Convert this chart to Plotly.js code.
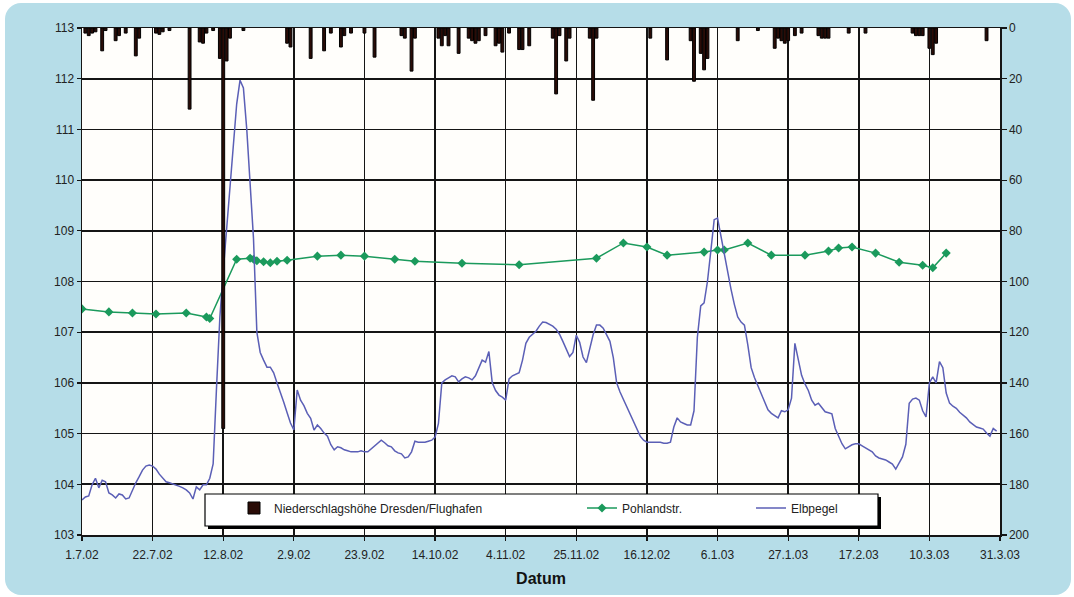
<!DOCTYPE html>
<html><head><meta charset="utf-8">
<script src="https://cdn.plot.ly/plotly-3.0.1.min.js"></script>
<style>
html,body{margin:0;padding:0;background:#ffffff;}
#bg{position:absolute;left:5px;top:3px;width:1066px;height:592px;background:#b6dde8;border-radius:16px;}
#chart{position:absolute;left:0;top:0;width:1074px;height:597px;}
</style></head><body>
<div id="bg"></div><div id="chart"></div>
<script>
// ---- tick labels ----
const tickDates = ['2002-07-01','2002-07-22','2002-08-12','2002-09-02','2002-09-23','2002-10-14','2002-11-04','2002-11-25','2002-12-16','2003-01-06','2003-01-27','2003-02-17','2003-03-10','2003-03-31'];
const tickLabels = ['1.7.02','22.7.02','12.8.02','2.9.02','23.9.02','14.10.02','4.11.02','25.11.02','16.12.02','6.1.03','27.1.03','17.2.03','10.3.03','31.3.03'];

// ---- Niederschlagshöhe Dresden/Flughafen (mm, right axis) ----
const rainDates = ['2002-07-02','2002-07-03','2002-07-04','2002-07-05','2002-07-07','2002-07-08','2002-07-11','2002-07-12','2002-07-14','2002-07-17','2002-07-18','2002-07-23','2002-07-24','2002-07-25','2002-07-27','2002-08-02','2002-08-05','2002-08-06','2002-08-07','2002-08-09','2002-08-11','2002-08-12','2002-08-13','2002-08-14','2002-08-18','2002-08-31','2002-09-01','2002-09-07','2002-09-11','2002-09-13','2002-09-16','2002-09-17','2002-09-19','2002-09-23','2002-09-26','2002-10-04','2002-10-05','2002-10-07','2002-10-08','2002-10-15','2002-10-16','2002-10-17','2002-10-18','2002-10-21','2002-10-24','2002-10-25','2002-10-26','2002-10-27','2002-10-29','2002-11-01','2002-11-02','2002-11-03','2002-11-05','2002-11-08','2002-11-09','2002-11-11','2002-11-18','2002-11-19','2002-11-20','2002-11-22','2002-11-23','2002-11-29','2002-11-30','2002-12-01','2002-12-17','2002-12-22','2002-12-29','2002-12-30','2003-01-01','2003-01-02','2003-01-03','2003-01-12','2003-01-18','2003-01-23','2003-01-24','2003-01-25','2003-01-26','2003-01-27','2003-01-29','2003-01-31','2003-02-05','2003-02-06','2003-02-07','2003-02-08','2003-02-14','2003-02-19','2003-03-05','2003-03-06','2003-03-07','2003-03-08','2003-03-10','2003-03-11','2003-03-12','2003-03-27'];
const rainMm = [2,3,2,1.5,9,1,5,3,2,11,4,2,2.5,1.5,1,32,5.5,6,2,1,12,158,13,4,1,6,7.5,12,9,2,7.5,3,2,2,11.5,3,4,17,4,4,7,3,7,10,4,5,6,5,3,7,6,9.5,2,8.5,8.5,7,4,26,3,13,4,4,28.5,4,4,12.6,5,21,10,16.5,12,5,1,8,4,5,6,5,3,2,3,4,4,4,2,2,2,3,3,3,8,10.5,6,5];

// ---- Pohlandstr. (m, left axis) ----
const pohlDates = ['2002-07-01','2002-07-09','2002-07-16','2002-07-23','2002-08-01','2002-08-07','2002-08-08','2002-08-16','2002-08-20','2002-08-21','2002-08-22','2002-08-24','2002-08-26','2002-08-28','2002-08-31','2002-09-09','2002-09-16','2002-09-23','2002-10-02','2002-10-08','2002-10-22','2002-11-08','2002-12-01','2002-12-09','2002-12-16','2002-12-22','2003-01-02','2003-01-06','2003-01-08','2003-01-15','2003-01-22','2003-02-01','2003-02-08','2003-02-11','2003-02-15','2003-02-22','2003-03-01','2003-03-08','2003-03-11','2003-03-15'];
const pohlValues = [107.46,107.40,107.38,107.36,107.38,107.30,107.27,108.44,108.46,108.44,108.41,108.39,108.37,108.40,108.42,108.50,108.52,108.50,108.44,108.40,108.36,108.33,108.46,108.76,108.68,108.52,108.58,108.62,108.62,108.76,108.52,108.52,108.60,108.66,108.68,108.56,108.38,108.32,108.27,108.56];

// ---- Elbpegel (m, left axis) ----
const elbDates = ['2002-07-01','2002-07-02','2002-07-03','2002-07-04','2002-07-05','2002-07-06','2002-07-07','2002-07-08','2002-07-09','2002-07-10','2002-07-11','2002-07-12','2002-07-13','2002-07-14','2002-07-15','2002-07-16','2002-07-17','2002-07-18','2002-07-19','2002-07-20','2002-07-21','2002-07-22','2002-07-23','2002-07-24','2002-07-25','2002-07-26','2002-07-27','2002-07-28','2002-07-29','2002-07-30','2002-07-31',
'2002-08-01','2002-08-02','2002-08-03','2002-08-04','2002-08-05','2002-08-06','2002-08-07','2002-08-08','2002-08-09','2002-08-10','2002-08-11','2002-08-12','2002-08-13','2002-08-14','2002-08-15','2002-08-16','2002-08-17','2002-08-18','2002-08-19','2002-08-20','2002-08-21','2002-08-22','2002-08-23','2002-08-24','2002-08-25','2002-08-26','2002-08-27','2002-08-28','2002-08-29','2002-08-30','2002-08-31',
'2002-09-01','2002-09-02','2002-09-03','2002-09-04','2002-09-05','2002-09-06','2002-09-07','2002-09-08','2002-09-09','2002-09-10','2002-09-11','2002-09-12','2002-09-13','2002-09-14','2002-09-15','2002-09-16','2002-09-17','2002-09-18','2002-09-19','2002-09-20','2002-09-21','2002-09-22','2002-09-23','2002-09-24','2002-09-25','2002-09-26','2002-09-27','2002-09-28','2002-09-29','2002-09-30',
'2002-10-01','2002-10-02','2002-10-03','2002-10-04','2002-10-05','2002-10-06','2002-10-07','2002-10-08','2002-10-09','2002-10-10','2002-10-11','2002-10-12','2002-10-13','2002-10-14','2002-10-15','2002-10-16','2002-10-17','2002-10-18','2002-10-19','2002-10-20','2002-10-21','2002-10-22','2002-10-23','2002-10-24','2002-10-25','2002-10-26','2002-10-27','2002-10-28','2002-10-29','2002-10-30','2002-10-31',
'2002-11-01','2002-11-02','2002-11-03','2002-11-04','2002-11-05','2002-11-06','2002-11-07','2002-11-08','2002-11-09','2002-11-10','2002-11-11','2002-11-12','2002-11-13','2002-11-14','2002-11-15','2002-11-16','2002-11-17','2002-11-18','2002-11-19','2002-11-20','2002-11-21','2002-11-22','2002-11-23','2002-11-24','2002-11-25','2002-11-26','2002-11-27','2002-11-28','2002-11-29','2002-11-30',
'2002-12-01','2002-12-02','2002-12-03','2002-12-04','2002-12-05','2002-12-06','2002-12-07','2002-12-08','2002-12-09','2002-12-10','2002-12-11','2002-12-12','2002-12-13','2002-12-14','2002-12-15','2002-12-16','2002-12-17','2002-12-18','2002-12-19','2002-12-20','2002-12-21','2002-12-22','2002-12-23','2002-12-24','2002-12-25','2002-12-26','2002-12-27','2002-12-28','2002-12-29','2002-12-30','2002-12-31',
'2003-01-01','2003-01-02','2003-01-03','2003-01-04','2003-01-05','2003-01-06','2003-01-07','2003-01-08','2003-01-09','2003-01-10','2003-01-11','2003-01-12','2003-01-13','2003-01-14','2003-01-15','2003-01-16','2003-01-17','2003-01-18','2003-01-19','2003-01-20','2003-01-21','2003-01-22','2003-01-23','2003-01-24','2003-01-25','2003-01-26','2003-01-27','2003-01-28','2003-01-29','2003-01-30','2003-01-31',
'2003-02-01','2003-02-02','2003-02-03','2003-02-04','2003-02-05','2003-02-06','2003-02-07','2003-02-08','2003-02-09','2003-02-10','2003-02-11','2003-02-12','2003-02-13','2003-02-14','2003-02-15','2003-02-16','2003-02-17','2003-02-18','2003-02-19','2003-02-20','2003-02-21','2003-02-22','2003-02-23','2003-02-24','2003-02-25','2003-02-26','2003-02-27','2003-02-28',
'2003-03-01','2003-03-02','2003-03-03','2003-03-04','2003-03-05','2003-03-06','2003-03-07','2003-03-08','2003-03-09','2003-03-10','2003-03-11','2003-03-12','2003-03-13','2003-03-14','2003-03-15','2003-03-16','2003-03-17','2003-03-18','2003-03-19','2003-03-20','2003-03-21','2003-03-22','2003-03-23','2003-03-24','2003-03-25','2003-03-26','2003-03-27','2003-03-28','2003-03-29','2003-03-30'];
const elbValues = [103.69,103.75,103.77,103.99,104.12,103.93,104.08,104.05,103.83,103.79,103.73,103.81,103.79,103.71,103.73,103.89,104.03,104.15,104.28,104.36,104.38,104.36,104.30,104.20,104.12,104.05,104.03,104.01,103.99,103.96,103.93,
103.89,103.83,103.71,103.95,103.89,103.99,103.99,104.12,104.40,105.90,107.30,108.20,109.00,109.80,110.75,111.50,111.97,111.82,111.00,110.00,108.85,107.00,106.60,106.45,106.31,106.31,106.20,106.00,105.82,105.62,105.41,
105.21,105.07,105.86,105.66,105.55,105.40,105.30,105.07,105.17,105.10,105.01,104.95,104.78,104.68,104.74,104.72,104.68,104.66,104.64,104.64,104.64,104.66,104.64,104.64,104.70,104.74,104.80,104.87,104.82,104.76,
104.74,104.66,104.62,104.60,104.52,104.54,104.64,104.85,104.83,104.83,104.83,104.85,104.87,104.93,105.20,106.00,106.06,106.10,106.14,106.12,106.02,106.08,106.12,106.10,106.06,106.14,106.30,106.45,106.41,106.62,106.00,
105.85,105.76,105.72,105.66,106.08,106.14,106.17,106.20,106.45,106.78,106.90,106.96,107.02,107.12,107.20,107.19,107.16,107.12,107.06,106.96,106.82,106.68,106.52,106.60,106.94,106.80,106.51,106.40,106.65,106.95,
107.14,107.14,107.08,106.96,106.82,106.50,106.00,105.82,105.68,105.52,105.38,105.24,105.10,104.95,104.87,104.83,104.83,104.83,104.83,104.83,104.81,104.81,104.83,105.13,105.31,105.23,105.20,105.17,105.17,105.45,106.90,
107.52,107.58,108.00,108.60,109.22,109.25,108.90,108.55,108.15,107.85,107.55,107.30,107.20,107.14,106.75,106.30,106.10,105.95,105.80,105.63,105.47,105.40,105.35,105.31,105.45,105.43,105.47,105.70,106.78,106.45,106.15,
105.98,105.85,105.66,105.56,105.60,105.52,105.43,105.41,105.39,105.10,104.96,104.80,104.70,104.74,104.78,104.80,104.80,104.76,104.72,104.68,104.64,104.56,104.52,104.50,104.48,104.44,104.40,104.30,
104.42,104.54,104.79,105.60,105.68,105.70,105.66,105.45,105.33,106.00,106.12,106.00,106.42,106.30,105.80,105.60,105.54,105.50,105.42,105.37,105.31,105.23,105.17,105.13,105.11,105.09,105.01,104.95,105.10,105.05];

// ---- page geometry (pixels) ----
const W = 1074, H = 597, ML = 82, MR = 74, MT = 28, MB = 62;
const PW = W - ML - MR, PH = H - MT - MB;
const px = v => (v - ML) / PW;           // pixel x -> paper x
const py = v => (H - MB - v) / PH;       // pixel y -> paper y

const FONT = '"Liberation Sans", Arial, sans-serif';
const INK = '#151515';

const traces = [
  {
    type: 'bar', name: 'Niederschlagshöhe Dresden/Flughafen',
    x: rainDates, y: rainMm, yaxis: 'y2', legend: 'legend',
    width: 0.85 * 86400000,
    marker: {color: '#2a0c07', line: {color: '#000', width: 1}},
    hoverinfo: 'x+y'
  },
  {
    type: 'scatter', mode: 'lines+markers', name: 'Pohlandstr.',
    x: pohlDates, y: pohlValues, legend: 'legend2',
    line: {color: '#1b9a5c', width: 1.5},
    marker: {symbol: 'diamond', size: 7, color: '#1b9a5c'}
  },
  {
    type: 'scatter', mode: 'lines', name: 'Elbpegel',
    x: elbDates, y: elbValues, legend: 'legend3',
    line: {color: '#5b5fb6', width: 1.5}
  }
];

const axisCommon = {
  showline: true, linecolor: INK, linewidth: 1.5,
  ticks: 'outside', ticklen: 4, tickwidth: 1.2, tickcolor: INK,
  tickfont: {family: FONT, size: 12, color: '#222'},
  zeroline: false, automargin: false
};

const legendCommon = {
  orientation: 'h', yanchor: 'middle', xanchor: 'left', y: py(508),
  bgcolor: 'rgba(0,0,0,0)', borderwidth: 0,
  font: {family: FONT, size: 12, color: '#222'}
};

const layout = {
  width: W, height: H,
  margin: {l: ML, r: MR, t: MT, b: MB, pad: 0},
  paper_bgcolor: 'rgba(0,0,0,0)',
  plot_bgcolor: '#fffefb',
  font: {family: FONT, size: 12, color: '#222'},
  showlegend: true,
  bargap: 0,
  xaxis: Object.assign({}, axisCommon, {
    type: 'date', range: ['2002-07-01', '2003-03-31'],
    tickmode: 'array', tickvals: tickDates, ticktext: tickLabels,
    ticklabelstandoff: 4,
    showgrid: true, gridcolor: INK, gridwidth: 1.6, mirror: true,
    title: {text: 'Datum', font: {family: FONT, size: 16, color: '#111', weight: 'bold'}, standoff: 12}
  }),
  yaxis: Object.assign({}, axisCommon, {
    range: [103, 113], tick0: 103, dtick: 1,
    showgrid: true, gridcolor: INK, gridwidth: 1.6
  }),
  yaxis2: Object.assign({}, axisCommon, {
    overlaying: 'y', side: 'right', range: [200, 0], tick0: 0, dtick: 20,
    showgrid: false, ticklen: 5
  }),
  legend: Object.assign({}, legendCommon, {x: px(234)}),
  legend2: Object.assign({}, legendCommon, {x: px(582)}),
  legend3: Object.assign({}, legendCommon, {x: px(751)}),
  shapes: [
    {type: 'rect', xref: 'paper', yref: 'paper', layer: 'above',
     x0: px(208), x1: px(881), y0: py(529), y1: py(497),
     fillcolor: '#000', line: {width: 0}},
    {type: 'rect', xref: 'paper', yref: 'paper', layer: 'above',
     x0: px(205), x1: px(878), y0: py(526), y1: py(494),
     fillcolor: '#ffffff', line: {color: '#000', width: 1.2}}
  ]
};

Plotly.newPlot('chart', traces, layout, {displayModeBar: false, staticPlot: true});
</script></body></html>
